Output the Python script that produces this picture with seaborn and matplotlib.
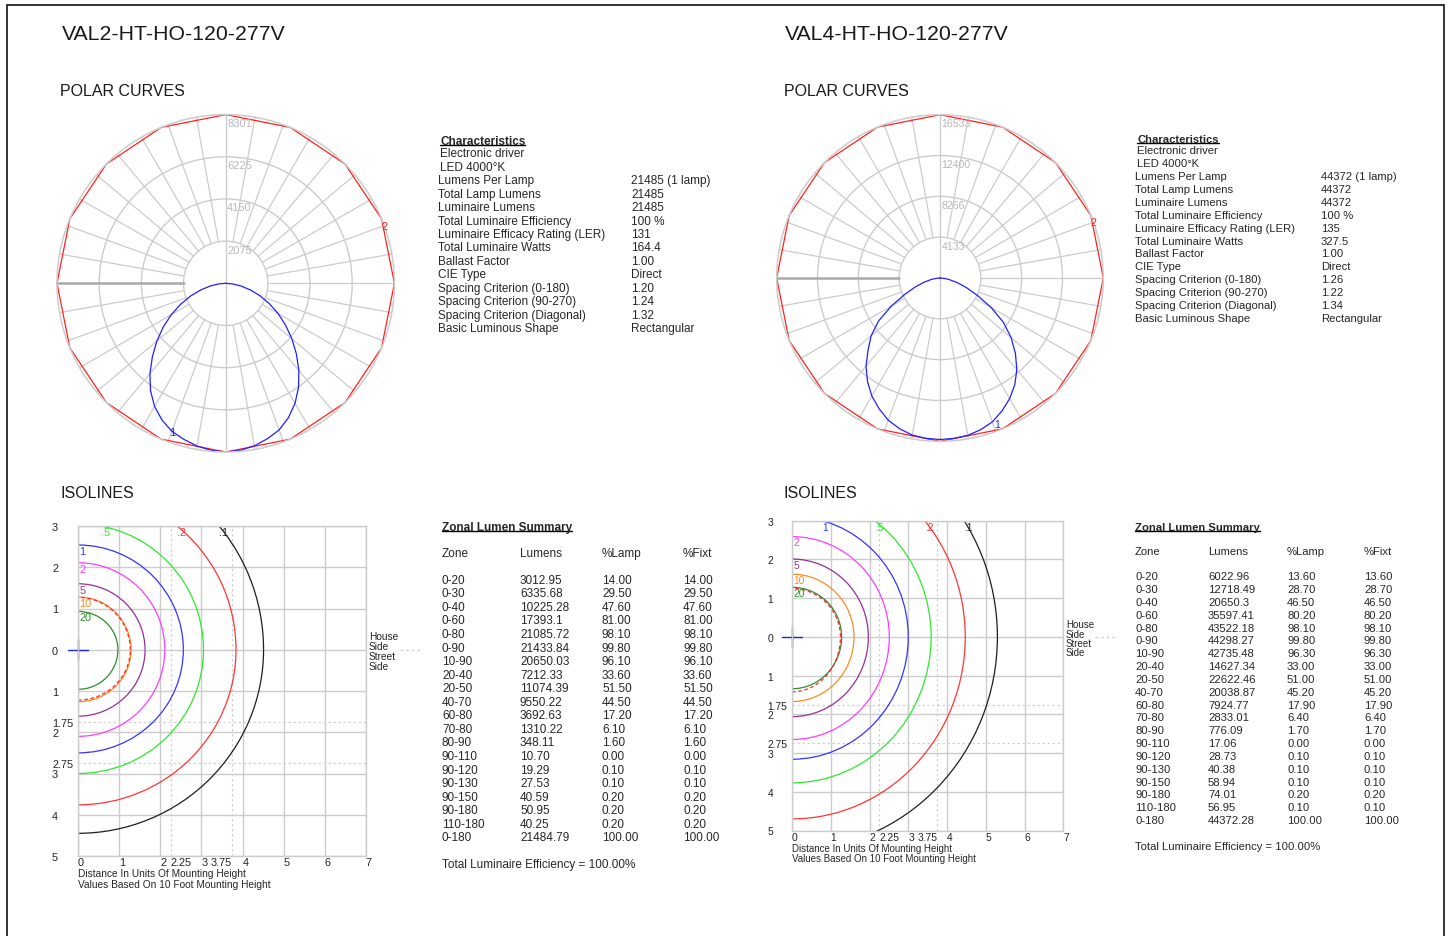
import numpy as np
import pandas as pd
import matplotlib
matplotlib.use('Agg')
import matplotlib.pyplot as plt
from matplotlib.patches import Arc
from matplotlib.lines import Line2D
import seaborn as sns

sns.set_style('white')
plt.rcParams['font.family'] = ['Liberation Sans', 'DejaVu Sans']

#%% data
# candela values, every 5 deg from nadir
angles = [0, 5, 10, 15, 20, 25, 30, 35, 40, 45, 50, 55, 60, 65, 70, 75, 80, 85, 90]
cd_val2_left = [8300, 8250, 8130, 7950, 7750, 7420, 7000, 6450, 5800, 5100, 4420, 3750, 3100, 2450, 1850, 1280, 780, 350, 0]
cd_val2_right = [8300, 8250, 8120, 7920, 7680, 7300, 6820, 6250, 5600, 4920, 4250, 3600, 2980, 2370, 1800, 1250, 760, 340, 0]
cd_val4_left = [16350, 16300, 16150, 15800, 15320, 14600, 13800, 12800, 11650, 10300, 9100, 7600, 5700, 3950, 2700, 1700, 950, 400, 0]
cd_val4_right = [16350, 16300, 16180, 15900, 15500, 14850, 14100, 13200, 12100, 10800, 9400, 7850, 6000, 4200, 2850, 1800, 1000, 420, 0]

# second plane (red) every 22.5 deg
plane2_angles = [0, 22.5, 45, 67.5, 90, 112.5, 135, 157.5, 180, 202.5, 225, 247.5, 270, 292.5, 315, 337.5, 360]
plane2_val2 = [8301, 8301, 8301, 8301, 8301, 8301, 8301, 8301, 8301, 8301, 8301, 8301, 8301, 8301, 8301, 8301, 8301]
plane2_val4 = [16533, 16533, 16533, 16533, 16533, 16533, 16533, 16533, 16533, 16533, 16533, 16533, 16533, 16533, 16533, 16533, 16533]

rings_val2 = [2075, 4150, 6225, 8301]
rings_val4 = [4133, 8266, 12400, 16533]

# isofootcandle contours: level, x-reach, reach towards house side, reach towards street side
iso_levels = ['20', '10', '5', '2', '1', '.5', '.2', '.1']
iso_colors = ['#2a8f2a', '#ff8a1f', '#952f95', '#ff3cff', '#3434ff', '#2ee82e', '#ff3434', '#1e1e1e']
iso_val2_x = [0.97, 1.29, 1.63, 2.11, 2.56, 3.05, 3.84, 4.51]
iso_val2_house = [0.93, 1.28, 1.60, 2.11, 2.54, 3.05, 3.85, 4.62]
iso_val2_street = [0.96, 1.26, 1.61, 2.10, 2.50, 3.00, 3.76, 4.45]
iso_val4_x = [1.28, 1.60, 1.97, 2.51, 3.00, 3.59, 4.47, 5.30]
iso_val4_house = [1.28, 1.62, 2.01, 2.59, 3.11, 3.735, 4.67, 5.50]
iso_val4_street = [1.34, 1.67, 2.06, 2.65, 3.16, 3.77, 4.70, 5.51]
# half max candela trace (red dashed)
hmc_val2 = [1.27, 1.27, 1.22]
hmc_val4 = [1.25, 1.25, 1.42]

char_labels = ['Lumens Per Lamp', 'Total Lamp Lumens', 'Luminaire Lumens', 'Total Luminaire Efficiency',
               'Luminaire Efficacy Rating (LER)', 'Total Luminaire Watts', 'Ballast Factor', 'CIE Type',
               'Spacing Criterion (0-180)', 'Spacing Criterion (90-270)', 'Spacing Criterion (Diagonal)',
               'Basic Luminous Shape']
char_val2 = ['21485 (1 lamp)', '21485', '21485', '100 %', '131', '164.4', '1.00', 'Direct', '1.20', '1.24', '1.32', 'Rectangular']
char_val4 = ['44372 (1 lamp)', '44372', '44372', '100 %', '135', '327.5', '1.00', 'Direct', '1.26', '1.22', '1.34', 'Rectangular']

zones = ['0-20', '0-30', '0-40', '0-60', '0-80', '0-90', '10-90', '20-40', '20-50', '40-70', '60-80', '70-80',
         '80-90', '90-110', '90-120', '90-130', '90-150', '90-180', '110-180', '0-180']
lumens_val2 = ['3012.95', '6335.68', '10225.28', '17393.1', '21085.72', '21433.84', '20650.03', '7212.33', '11074.39',
               '9550.22', '3692.63', '1310.22', '348.11', '10.70', '19.29', '27.53', '40.59', '50.95', '40.25', '21484.79']
lamp_val2 = ['14.00', '29.50', '47.60', '81.00', '98.10', '99.80', '96.10', '33.60', '51.50', '44.50', '17.20', '6.10',
             '1.60', '0.00', '0.10', '0.10', '0.20', '0.20', '0.20', '100.00']
lumens_val4 = ['6022.96', '12718.49', '20650.3', '35597.41', '43522.18', '44298.27', '42735.48', '14627.34', '22622.46',
               '20038.87', '7924.77', '2833.01', '776.09', '17.06', '28.73', '40.38', '58.94', '74.01', '56.95', '44372.28']
lamp_val4 = ['13.60', '28.70', '46.50', '80.20', '98.10', '99.80', '96.30', '33.00', '51.00', '45.20', '17.90', '6.40',
             '1.70', '0.00', '0.10', '0.10', '0.10', '0.20', '0.10', '100.00']

#%% figure in pixel units
W, H = 1449, 937
fig = plt.figure(figsize=(W / 100, H / 100), dpi=100)
GRID = '#cccccc'
GRID2 = '#d2d2d2'


def rect(x0, y0, x1, y1):
    return [x0 / W, 1 - y1 / H, (x1 - x0) / W, (y1 - y0) / H]


def put(x, y, s, size, **kw):
    kw.setdefault('ha', 'left')
    kw.setdefault('va', 'center')
    return fig.text(x / W, 1 - y / H, s, fontsize=size, **kw)


underlined = []


def heading(x, y, s, size):
    # bold heading on a baseline, underline added after the first draw
    base = y + 0.36 * size * 100 / 72
    t = put(x, base, s, size, fontweight='bold', va='baseline')
    underlined.append((t, base + 1.2))


def polar_panel(r, left, right, p2, rings, lab1, scale):
    ax = fig.add_axes(r, projection='polar')
    rmax = rings[-1]
    ax.set_theta_zero_location('S')
    ax.set_ylim(0, rmax)
    ax.set_yticks(rings[:-1])
    ax.set_yticklabels([])
    ax.set_xticks([])
    ax.grid(True, axis='y', color=GRID, lw=1.0)
    ax.spines['polar'].set_color(GRID)
    ax.spines['polar'].set_linewidth(1.1)
    # spokes every 10 deg, starting at the first ring
    for a in range(10, 360, 10):
        if a in (180, 270):
            continue
        t = np.deg2rad(a)
        ax.plot([t, t], [rings[0], rmax], color=GRID, lw=0.9)
    ax.plot([0, 0], [0, rmax], color=GRID, lw=1.0)
    ax.plot([np.pi, np.pi], [0, rmax], color=GRID, lw=1.0)
    ax.plot([np.deg2rad(270)] * 2, [rings[0], rmax], color='#a9a9a9', lw=1.8)
    for v in rings:
        ax.annotate(str(v), xy=(np.pi, v), xytext=(1, -2.5), textcoords='offset points',
                    ha='left', va='top', color='#b8b8b8', fontsize=8 * scale)
    a = np.array(angles, dtype=float)
    theta = np.deg2rad(np.concatenate([-a[::-1], a[1:]]))
    cd = np.concatenate([np.array(left)[::-1], np.array(right)[1:]])
    sns.lineplot(x=np.deg2rad(plane2_angles), y=p2, ax=ax, sort=False, estimator=None,
                 color='#ff2020', lw=0.9, clip_on=False)
    sns.lineplot(x=theta, y=cd, ax=ax, sort=False, estimator=None, color='#2020ff', lw=0.9)
    ax.text(np.deg2rad(110), rmax, '2', color='#ff2020', fontsize=8 * scale, ha='center', va='center')
    ax.text(np.deg2rad(lab1[0]), lab1[1], '1', color='#2020ff', fontsize=8 * scale, ha='center', va='center')
    ax.set_xlabel('')
    ax.set_ylabel('')
    return ax


def iso_panel(r, xr, hr, sr, hmc, ypad, scale):
    ax = fig.add_axes(r)
    ax.set_xlim(0, 7)
    ax.set_ylim(-5, 3)
    ax.set_axisbelow(True)
    ax.set_xticks(range(8))
    ax.set_xticklabels([str(i) for i in range(8)])
    ax.set_xticks([2.25, 3.75], minor=True)
    ax.set_xticklabels(['2.25', '3.75'], minor=True)
    ax.set_yticks(range(-5, 4))
    ax.set_yticklabels([str(abs(i)) for i in range(-5, 4)])
    ax.set_yticks([-1.75, -2.75], minor=True)
    ax.set_yticklabels(['1.75', '2.75'], minor=True)
    ax.tick_params(which='both', length=0, labelsize=7.8 * scale, colors='#222222')
    ax.tick_params(axis='y', which='both', pad=ypad)
    ax.tick_params(axis='x', which='both', pad=1)
    for t in ax.get_yticklabels() + ax.get_yticklabels(minor=True):
        t.set_ha('left')
    for t in ax.get_xticklabels():
        t.set_ha('left')
    mx = ax.get_xticklabels(minor=True)
    mx[0].set_ha('left')
    mx[1].set_ha('right')
    ax.grid(which='major', color=GRID, lw=1.0)
    ax.grid(which='minor', color=GRID2, lw=0.9, ls=(0, (2, 2)))
    for s in ax.spines.values():
        s.set_color(GRID)
        s.set_linewidth(1.0)
    for lev, col, a, h, s in zip(iso_levels, iso_colors, xr, hr, sr):
        ax.add_patch(Arc((0, 0), 2 * a, 2 * h, theta1=0, theta2=90, color=col, lw=0.9))
        ax.add_patch(Arc((0, 0), 2 * a, 2 * s, theta1=270, theta2=360, color=col, lw=0.9))
        if h < 3:
            ax.text(0.03, h - 0.02, lev, color=col, fontsize=7.8 * scale, ha='left', va='top')
        else:
            ax.text(a * np.sqrt(1 - (3 / h) ** 2), 2.97, lev, color=col, fontsize=7.8 * scale,
                    ha='left', va='top')
    ax.add_patch(Arc((0, 0), 2 * hmc[0], 2 * hmc[1], theta1=0, theta2=90, color='#ff2a2a', lw=0.9, ls=(0, (3, 2))))
    ax.add_patch(Arc((0, 0), 2 * hmc[0], 2 * hmc[2], theta1=270, theta2=360, color='#ff2a2a', lw=0.9, ls=(0, (3, 2))))
    ax.plot([-0.25, 0.25], [0, 0], color='#2020ff', lw=1, clip_on=False)
    ax.plot([0, 0], [-0.25, 0.25], color='#2020ff', lw=1, clip_on=False)
    return ax


def char_block(x, xv, y0, dy, vals, size):
    heading(x + 2, y0, 'Characteristics', size)
    put(x + 2, y0 + dy, 'Electronic driver', size)
    put(x + 2, y0 + 2 * dy, 'LED 4000°K', size)
    for i, (lab, v) in enumerate(zip(char_labels, vals)):
        put(x, y0 + (i + 3) * dy, lab, size)
        put(xv, y0 + (i + 3) * dy, v, size)


def zonal_block(cols, y_title, y_head, y0, dy, y_tot, lumens, lamp, size):
    heading(cols[0], y_title, 'Zonal Lumen Summary', size)
    df = pd.DataFrame({'Zone': zones, 'Lumens': lumens, '%Lamp': lamp, '%Fixt': lamp})
    for c, name in zip(cols, df.columns):
        put(c, y_head, name, size)
        for i, v in enumerate(df[name]):
            put(c, y0 + i * dy, v, size)
    put(cols[0], y_tot, 'Total Luminaire Efficiency = 100.00%', size)


#%% left luminaire
put(62, 35, 'VAL2-HT-HO-120-277V', 15.3, color='#1a1a1a')
put(60, 92, 'POLAR CURVES', 11.5, color='#1a1a1a')
put(60, 494, 'ISOLINES', 11.5, color='#1a1a1a')
polar_panel(rect(57, 115.6, 394.4, 453), cd_val2_left, cd_val2_right, plane2_val2, rings_val2, (-19.7, 7790), 1.0)
char_block(438, 631, 141, 13.43, char_val2, 8.5)
iso_panel(rect(78, 527, 366, 857), iso_val2_x, iso_val2_house, iso_val2_street, hmc_val2, 18.7, 1.0)
put(78, 874, 'Distance In Units Of Mounting Height', 7.3)
put(78, 885, 'Values Based On 10 Foot Mounting Height', 7.3)
for i, s in enumerate(['House', 'Side', 'Street', 'Side']):
    put(369, 637 + 10 * i, s, 7.3)
fig.add_artist(Line2D([400 / W, 421 / W], [1 - 651 / H, 1 - 651 / H], color=GRID2, lw=1, ls=(0, (2, 2))))
zonal_block([442, 520, 602, 683], 527, 554, 580.7, 13.56, 865.5, lumens_val2, lamp_val2, 8.5)

#%% right luminaire
put(785, 35, 'VAL4-HT-HO-120-277V', 15.3, color='#1a1a1a')
put(784, 92, 'POLAR CURVES', 11.5, color='#1a1a1a')
put(784, 494, 'ISOLINES', 11.5, color='#1a1a1a')
polar_panel(rect(776.7, 115.7, 1103.3, 442.3), cd_val4_left, cd_val4_right, plane2_val4, rings_val4, (21.2, 15860), 0.95)
char_block(1135, 1321, 138.5, 12.88, char_val4, 8.1)
iso_panel(rect(792, 521.7, 1063.3, 831.5), iso_val4_x, iso_val4_house, iso_val4_street, hmc_val4, 17.6, 0.95)
put(792, 849, 'Distance In Units Of Mounting Height', 7.0)
put(792, 859, 'Values Based On 10 Foot Mounting Height', 7.0)
for i, s in enumerate(['House', 'Side', 'Street', 'Side']):
    put(1066, 625 + 9.5 * i, s, 7.0)
fig.add_artist(Line2D([1095 / W, 1116 / W], [1 - 637.7 / H, 1 - 637.7 / H], color=GRID2, lw=1, ls=(0, (2, 2))))
zonal_block([1135, 1208, 1287, 1364], 526.5, 551.7, 577.3, 12.83, 847.3, lumens_val4, lamp_val4, 8.1)

#%% page frame
frame = dict(color='#333333', lw=1.4)
fig.add_artist(Line2D([7 / W, 7 / W], [0, 1 - 6 / H], **frame))
fig.add_artist(Line2D([7 / W, 1444 / W], [1 - 6 / H, 1 - 6 / H], **frame))
fig.add_artist(Line2D([1444 / W, 1444 / W], [0, 1 - 6 / H], **frame))

# underline the bold headings
fig.canvas.draw()
renderer = fig.canvas.get_renderer()
for t, yline in underlined:
    bb = t.get_window_extent(renderer)
    yy = 1 - yline / H
    fig.add_artist(Line2D([bb.x0 / W, bb.x1 / W], [yy, yy], color='black', lw=1))

fig.savefig('out.png', dpi=100)
